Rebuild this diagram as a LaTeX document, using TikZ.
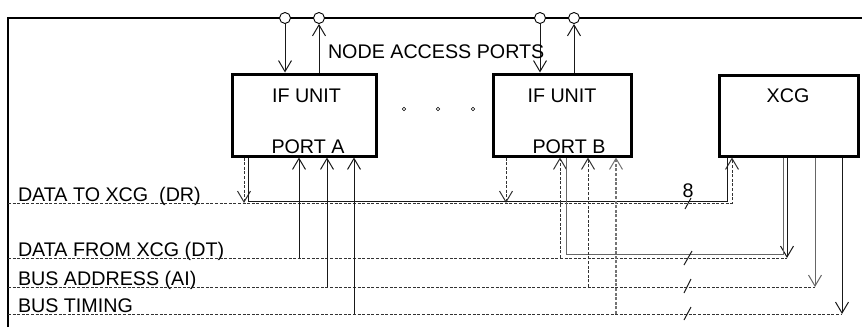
\documentclass[tikz,border=0pt]{standalone}
\usepackage{fontspec}
\setmainfont{Liberation Sans}
\usetikzlibrary{arrows.meta}
\begin{document}
\begin{tikzpicture}[x=1pt,y=-1pt,
  lbl/.style={font=\fontsize{19.7}{22}\selectfont, inner sep=0pt, outer sep=0pt},
  blk/.style={draw, line width=3pt, inner sep=0pt},
  ln/.style={line width=1pt, black!90},
  gln/.style={line width=1pt, black!60},
  bus/.style={line width=1pt, black!80, dash pattern=on 3pt off 1.6pt},
  gbus/.style={line width=1.1pt, black!55, dash pattern=on 3pt off 1.6pt},
  arr/.style={-{Straight Barb[length=11pt,width=13pt,line width=1pt]}},
  port/.style={circle, draw, fill=white, line width=0.9pt, minimum size=11pt, inner sep=0pt},
  dot/.style={circle, draw, line width=0.6pt, minimum size=3.5pt, inner sep=0pt},
  slash/.style={line width=1pt, black!90},
]
\useasboundingbox (0,0) rectangle (862,327);

% frame
\coordinate (fbl) at (8,327);
\coordinate (ftl) at (8,18);
\coordinate (ftr) at (862,18);
\draw[line width=1.3pt] (fbl) -- (ftl) -- (ftr);

% blocks
\node[blk, minimum width=144pt, minimum height=82pt] (A) at (304,115) {};
\node[blk, minimum width=138pt, minimum height=82pt] (B) at (562,115) {};
\node[blk, minimum width=139pt, minimum height=81pt] (X) at (788.5,115.5) {};

\node[lbl, anchor=base] (tA1) at (306.5,102) {IF UNIT};
\node[lbl, anchor=base] (tA2) at (308,153) {PORT A};
\node[lbl, anchor=base] (tB1) at (562,102) {IF UNIT};
\node[lbl, anchor=base] (tB2) at (569,153) {PORT B};
\node[lbl, anchor=base] (tX) at (788,102) {XCG};

% top ports
\node[port] (pa1) at (285,18) {};
\node[port] (pa2) at (319,18) {};
\node[port] (pb1) at (540,18) {};
\node[port] (pb2) at (574,18) {};
\draw[ln, arr] (pa1.south) -- (pa1.south |- A.north);
\draw[ln, arr] (pa2.south |- A.north) -- (pa2.south);
\draw[ln, arr] (pb1.south) -- (pb1.south |- B.north);
\draw[ln, arr] (pb2.south |- B.north) -- (pb2.south);
\node[lbl, anchor=base west] (nap) at (328,58) {NODE ACCESS PORTS};

% dots
\node[dot] (d1) at (404,109) {};
\node[dot] (d2) at (438,109) {};
\node[dot] (d3) at (473,109) {};

% bus coordinates
\coordinate (drL) at (8,203);
\coordinate (dtL) at (8,258);
\coordinate (aiL) at (8,287);
\coordinate (tmL) at (8,314);

% labels
\node[lbl, anchor=base west] (lDR) at (18,201.5) {DATA TO XCG\ \ (DR)};
\node[lbl, anchor=base west] (lDT) at (18,256.5) {DATA FROM XCG (DT)};
\node[lbl, anchor=base west] (lAI) at (18,285.5) {BUS ADDRESS (AI)};
\node[lbl, anchor=base west] (lTM) at (18,312.5) {BUS TIMING};

% DR bus
\coordinate (drA) at (244,203);
\coordinate (drB) at (506,203);
\coordinate (drX) at (732,203);
\draw[bus, arr] (drL) -- (drX) -- (drX |- X.south);
\draw[bus, arr] (drA |- A.south) -- (drA);
\draw[bus, arr] (drB |- B.south) -- (drB);
% direct A -> XCG
\coordinate (sA) at (248,201);
\coordinate (sX) at (727,201);
\draw[ln] (sA |- A.south) -- (sA) -- (sX) -- (sX |- X.south);

% DT bus
\coordinate (dtA) at (299,258);
\coordinate (dtB) at (560,258);
\coordinate (dtX) at (787,258);
\draw[bus] (dtL) -- (dtX);
\draw[ln, arr] (dtX |- X.south) -- (dtX);
\draw[ln, arr] (dtA) -- (dtA |- A.south);
\draw[bus, arr] (dtB) -- (dtB |- B.south);
% direct XCG -> B
\coordinate (sB2) at (566,254.5);
\coordinate (sX2) at (783.5,254.5);
\draw[gln] (sX2 |- X.south) -- (sX2) -- (sB2) -- (sB2 |- B.south);

% AI bus
\coordinate (aiA) at (327,287);
\coordinate (aiB) at (588,287);
\coordinate (aiX) at (815,287);
\draw[bus] (aiL) -- (aiX);
\draw[gln, arr] (aiX |- X.south) -- (aiX);
\draw[ln, arr] (aiA) -- (aiA |- A.south);
\draw[bus, arr] (aiB) -- (aiB |- B.south);

% timing bus
\coordinate (tmA) at (354,314);
\coordinate (tmB) at (616,314);
\coordinate (tmX) at (842,314);
\draw[bus] (tmL) -- (tmX);
\draw[ln, arr] (tmX |- X.south) -- (tmX);
\draw[ln, arr] (tmA) -- (tmA |- A.south);
\draw[gbus, arr] (tmB) -- (tmB |- B.south);

% width slashes
\coordinate (s1a) at (685,209); \coordinate (s1b) at (691,198);
\coordinate (s2a) at (684,265); \coordinate (s2b) at (692,251);
\coordinate (s3a) at (684,293); \coordinate (s3b) at (691,279);
\coordinate (s4a) at (684,320); \coordinate (s4b) at (691,307);
\draw[slash] (s1a) -- (s1b);
\draw[slash] (s2a) -- (s2b);
\draw[slash] (s3a) -- (s3b);
\draw[slash] (s4a) -- (s4b);
\node[lbl, anchor=base] (n8) at (688,197) {8};
\end{tikzpicture}
\end{document}
